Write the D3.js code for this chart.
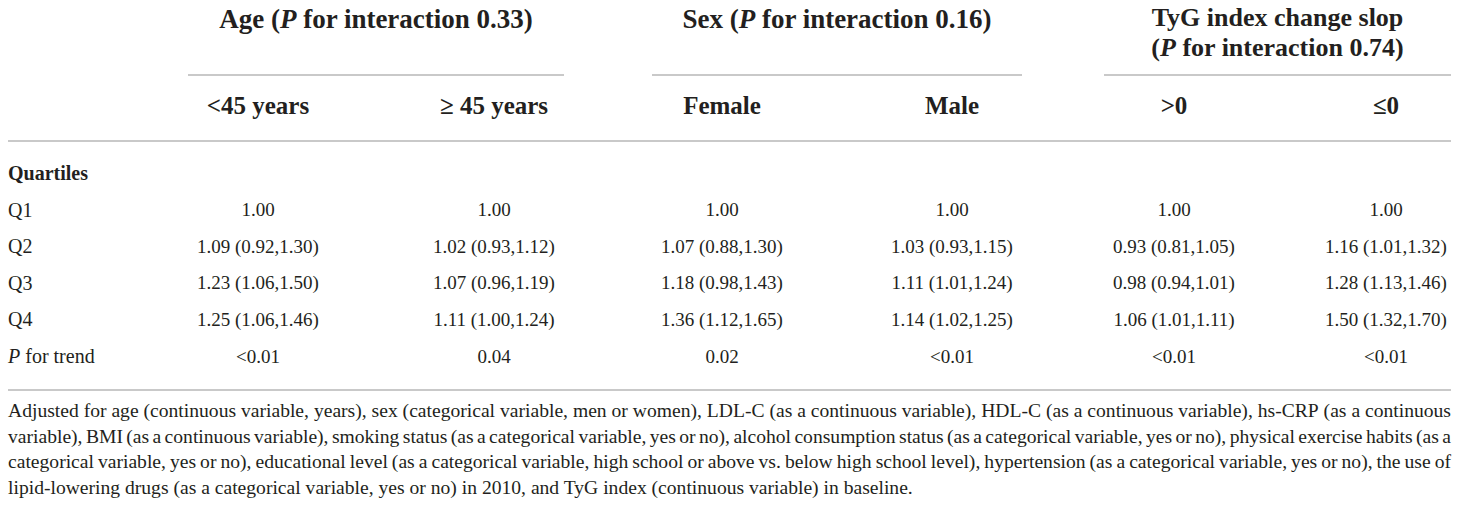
<!DOCTYPE html>
<html>
<head>
<meta charset="utf-8">
<script src="https://cdn.jsdelivr.net/npm/d3@7"></script>
<style>
  body { margin: 0; background: #fff; }
  svg text { font-family: "Liberation Serif", "Times New Roman", serif; fill: #231f20; }
</style>
</head>
<body>
<svg id="chart"></svg>
<script>
// table content
const groups = ["Age", "Sex", "TyG index change slop"];
const interactionP = ["0.33", "0.16", "0.74"];
const subgroups = ["<45 years", "≥ 45 years", "Female", "Male", ">0", "≤0"];
const quartiles = ["Q1", "Q2", "Q3", "Q4"];
const hr = [
    [1.00, 1.00, 1.00, 1.00, 1.00, 1.00],
    [1.09, 1.02, 1.07, 1.03, 0.93, 1.16],
    [1.23, 1.07, 1.18, 1.11, 0.98, 1.28],
    [1.25, 1.11, 1.36, 1.14, 1.06, 1.50]
];
const ciLow = [
    null,
    [0.92, 0.93, 0.88, 0.93, 0.81, 1.01],
    [1.06, 0.96, 0.98, 1.01, 0.94, 1.13],
    [1.06, 1.00, 1.12, 1.02, 1.01, 1.32]
];
const ciHigh = [
    null,
    [1.30, 1.12, 1.30, 1.15, 1.05, 1.32],
    [1.50, 1.19, 1.43, 1.24, 1.01, 1.46],
    [1.46, 1.24, 1.65, 1.25, 1.11, 1.70]
];
const pTrend = ["<0.01", "0.04", "0.02", "<0.01", "<0.01", "<0.01"];
const footnote = [
    "Adjusted for age (continuous variable, years), sex (categorical variable, men or women), LDL-C (as a continuous variable), HDL-C (as a continuous variable), hs-CRP (as a continuous",
    "variable), BMI (as a continuous variable), smoking status (as a categorical variable, yes or no), alcohol consumption status (as a categorical variable, yes or no), physical exercise habits (as a",
    "categorical variable, yes or no), educational level (as a categorical variable, high school or above vs. below high school level), hypertension (as a categorical variable, yes or no), the use of",
    "lipid-lowering drugs (as a categorical variable, yes or no) in 2010, and TyG index (continuous variable) in baseline."
];

const width = 1460, height = 507;
const left = 8, right = 1451;
const ruleColor = "#c9c9c9";
const f2 = d3.format(".2f");

const svg = d3.select("#chart").attr("width", width).attr("height", height);

const x = d3.scaleOrdinal(subgroups, [258, 494, 722, 952, 1174, 1386]);
const rowKeys = ["Quartiles", ...quartiles, "P for trend"];
const y = d3.scalePoint(rowKeys, [173, 356]);

function rule(x1, x2, yy) {
    svg.append("line")
        .attr("x1", x1).attr("x2", x2).attr("y1", yy).attr("y2", yy)
        .attr("stroke", ruleColor).attr("stroke-width", 2);
}

// group headers with underline
groups.forEach((g, i) => {
    const cols = subgroups.slice(i * 2, i * 2 + 2);
    const x1 = x(cols[0]) - 70, x2 = Math.min(right, x(cols[1]) + 70);
    const cx = (x1 + x2) / 2;

    const t = svg.append("text")
        .attr("x", cx).attr("y", 28)
        .attr("text-anchor", "middle")
        .attr("font-size", 27).attr("font-weight", "bold");
    t.append("tspan").text(g + " (");
    t.append("tspan").attr("font-style", "italic").text("P");
    t.append("tspan").text(" for interaction " + interactionP[i] + ")");

    // wrap onto two lines when wider than the underline
    if (t.node().getComputedTextLength() > x2 - x1) {
        t.remove();
        svg.append("text")
            .attr("x", cx).attr("y", 26)
            .attr("text-anchor", "middle")
            .attr("font-size", 26).attr("font-weight", "bold")
            .text(g);
        const t2 = svg.append("text")
            .attr("x", cx).attr("y", 56)
            .attr("text-anchor", "middle")
            .attr("font-size", 26).attr("font-weight", "bold");
        t2.append("tspan").text("(");
        t2.append("tspan").attr("font-style", "italic").text("P");
        t2.append("tspan").text(" for interaction " + interactionP[i] + ")");
    }
    rule(x1, x2, 75);
});

// subgroup headers
svg.selectAll(".sub")
    .data(subgroups).enter().append("text")
    .attr("class", "sub")
    .attr("x", d => x(d)).attr("y", 114)
    .attr("text-anchor", "middle")
    .attr("font-size", 25).attr("font-weight", "bold")
    .text(d => d);

rule(left, right, 141);

// row labels
svg.append("text")
    .attr("x", left).attr("y", y("Quartiles")).attr("dy", "0.35em")
    .attr("font-size", 20).attr("font-weight", "bold")
    .text("Quartiles");

svg.selectAll(".qlab")
    .data(quartiles).enter().append("text")
    .attr("class", "qlab")
    .attr("x", left).attr("y", d => y(d)).attr("dy", "0.35em")
    .attr("font-size", 20)
    .text(d => d);

const pl = svg.append("text")
    .attr("x", left).attr("y", y("P for trend")).attr("dy", "0.35em")
    .attr("font-size", 20);
pl.append("tspan").attr("font-style", "italic").text("P");
pl.append("tspan").text(" for trend");

// cells
quartiles.forEach((q, qi) => {
    svg.selectAll(".cell-" + q)
        .data(subgroups).enter().append("text")
        .attr("class", "cell-" + q)
        .attr("x", d => x(d)).attr("y", y(q)).attr("dy", "0.35em")
        .attr("text-anchor", "middle")
        .attr("font-size", 19)
        .text((d, ci) => !ciLow[qi]
            ? f2(hr[qi][ci])
            : `${f2(hr[qi][ci])} (${f2(ciLow[qi][ci])},${f2(ciHigh[qi][ci])})`);
});

svg.selectAll(".trend")
    .data(subgroups).enter().append("text")
    .attr("class", "trend")
    .attr("x", d => x(d)).attr("y", y("P for trend")).attr("dy", "0.35em")
    .attr("text-anchor", "middle")
    .attr("font-size", 19)
    .text((d, i) => pTrend[i]);

rule(left, right, 390);

// footnote, justified except the last line
const noteSize = 19.6, noteTop = 417, noteStep = 25.5;
footnote.forEach((line, li) => {
    const yy = noteTop + li * noteStep;
    if (li === footnote.length - 1) {
        svg.append("text").attr("x", left).attr("y", yy)
            .attr("font-size", noteSize).text(line);
        return;
    }
    const words = line.split(" ");
    const g = svg.append("g");
    const nodes = words.map(w => g.append("text")
        .attr("y", yy).attr("font-size", noteSize).text(w));
    const widths = nodes.map(n => n.node().getComputedTextLength());
    const gap = (right - left - d3.sum(widths)) / (words.length - 1);
    let cx = left;
    nodes.forEach((n, i) => {
        n.attr("x", cx);
        cx += widths[i] + gap;
    });
});
</script>
</body>
</html>
